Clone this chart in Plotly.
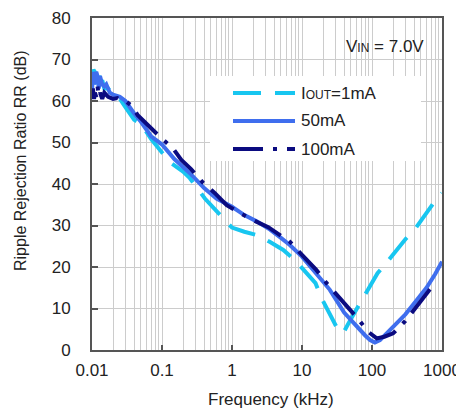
import plotly.graph_objects as go

# ---- data (frequency in kHz, ripple rejection in dB) ----
f_1mA = [0.01, 0.0105, 0.011, 0.0115, 0.012, 0.0125, 0.013, 0.014, 0.015, 0.017, 0.02, 0.025,
         0.03, 0.04, 0.05, 0.07, 0.1, 0.136, 0.2, 0.25, 0.41, 0.6, 1.0, 1.5, 2.25, 3.5, 5.4,
         7.9, 11, 15.6, 19, 25, 31, 36, 40, 50, 67, 85, 120, 152, 214, 300, 419, 572, 750, 1000]
rr_1mA = [66, 67.5, 67, 64, 67.5, 67, 64, 65, 63, 63, 61.5, 60.5,
          58.5, 55.5, 54.5, 50.8, 47.6, 45, 43, 41.4, 36.5, 33.5, 29.5, 28.5, 27.7, 26, 24.1,
          21.7, 19, 16.1, 12.5, 8.5, 5.6, 4.0, 4.5, 7.5, 11.2, 14.5, 18.5, 20.5, 23.7, 26.7,
          29.3, 32.5, 35.3, 37.8]

f_50mA = [0.01, 0.0103, 0.0107, 0.011, 0.0115, 0.012, 0.0125, 0.013, 0.014, 0.015, 0.016,
          0.018, 0.02, 0.025, 0.03, 0.04, 0.05, 0.07, 0.1, 0.15, 0.25, 0.4, 0.6, 1.0, 1.5,
          2.25, 3.5, 5, 6.7, 10, 15, 25, 40, 60, 80, 94, 110, 130, 160, 225, 300, 434, 600,
          800, 1000]
rr_50mA = [62, 67, 64, 66, 67, 66, 63, 66, 64, 63.5, 64,
           62, 61.5, 61, 60, 57, 55, 51.5, 49.5, 46, 42.6, 39, 36.5, 34.5, 32.5,
           31, 29, 27, 25.3, 22.5, 19, 14.5, 9, 5.6, 3.5, 2.4, 1.8, 2.4, 4, 6.4, 8.6, 12, 15,
           18.3, 21.3]

f_100mA = [0.01, 0.0103, 0.0107, 0.011, 0.0115, 0.012, 0.0125, 0.013, 0.014, 0.015, 0.017,
           0.02, 0.023, 0.027, 0.03, 0.036, 0.045, 0.06, 0.093, 0.143, 0.189, 0.26, 0.39,
           0.57, 0.84, 1.3, 2.0, 3.3, 5.4, 6.7, 10.4, 16, 22.5, 32, 46, 64, 88, 117, 150,
           200, 300, 434, 600, 785]
rr_100mA = [61, 63, 60.5, 62, 61, 63.5, 61, 62, 60.5, 62, 61,
            60.5, 60.7, 60, 60, 59, 56.6, 54.5, 51.4, 48.6, 45.8, 43.6, 40.2,
            37.8, 34.9, 33, 31.3, 29.6, 27.3, 26.1, 22.6, 19.3, 16.1, 13.2, 10.4, 7.4, 4.4,
            2.8, 3.2, 4.0, 7, 10.4, 13.3, 16.1]

x_tickvals = [0.01, 0.1, 1, 10, 100, 1000]
x_ticktext = ["0.01", "0.1", "1", "10", "100", "1000"]
y_tickvals = [0, 10, 20, 30, 40, 50, 60, 70, 80]

series_names = ["I<span style='font-size:12px'>OUT</span>=1mA", "50mA", "100mA"]

C_CYAN = "#18C6F0"
C_BLUE = "#3F6EEE"
C_NAVY = "#0B0B80"
DASH_CYAN = "28px,14px"
DASH_NAVY = "30px,10px,4px,10px"
GRID = "#CCCCCC"
AXIS = "#555555"
FONT = "Liberation Sans, Arial, sans-serif"

minor_x = [k * 10 ** e for e in range(-2, 3) for k in range(2, 10)]

fig = go.Figure()
fig.add_trace(go.Scatter(x=f_1mA, y=rr_1mA, mode="lines", name=series_names[0],
                         line=dict(color=C_CYAN, width=4, dash=DASH_CYAN)))
fig.add_trace(go.Scatter(x=f_50mA, y=rr_50mA, mode="lines", name=series_names[1],
                         line=dict(color=C_BLUE, width=4)))
fig.add_trace(go.Scatter(x=f_100mA, y=rr_100mA, mode="lines", name=series_names[2],
                         line=dict(color=C_NAVY, width=4, dash=DASH_NAVY)))

# the page body adds an 8px offset, so the figure is sized/placed to compensate
fig.update_layout(
    width=456, height=400,
    margin=dict(l=84, r=22, t=10, b=58, autoexpand=False),
    paper_bgcolor="white", plot_bgcolor="white",
    showlegend=False,
    font=dict(family=FONT, size=17, color="#222222"),
)
fig.update_xaxes(
    type="log", range=[-2, 3], automargin=False,
    tickmode="array", tickvals=x_tickvals, ticktext=x_ticktext,
    showgrid=True, gridcolor=GRID, gridwidth=1,
    minor=dict(tickmode="array", tickvals=minor_x, showgrid=True, gridcolor=GRID, gridwidth=1, ticks=""),
    ticks="inside", ticklen=5, tickwidth=1.5, tickcolor=AXIS,
    showline=True, linecolor=AXIS, linewidth=2, mirror=True,
    zeroline=False,
    tickfont=dict(size=17),
    ticklabelstandoff=4,
    ticklabeloverflow="allow",
)
fig.update_yaxes(
    range=[0, 80], tickmode="array", tickvals=y_tickvals, automargin=False,
    showgrid=True, gridcolor=GRID, gridwidth=1,
    ticks="inside", ticklen=6, tickwidth=1.5, tickcolor=AXIS,
    showline=True, linecolor=AXIS, linewidth=2, mirror=True,
    zeroline=False,
    tickfont=dict(size=17),
    ticklabelstandoff=16,
)

# y-axis title
fig.add_annotation(text="Ripple Rejection Ratio RR (dB)", xref="paper", yref="paper",
                   x=-0.206, y=0.572, textangle=-90, showarrow=False,
                   font=dict(size=16), xanchor="center", yanchor="middle")
# x-axis title
fig.add_annotation(text="Frequency (kHz)", xref="paper", yref="paper",
                   x=0.511, y=-0.150, showarrow=False, font=dict(size=17),
                   xanchor="center", yanchor="middle")
# condition label
fig.add_annotation(text="V<span style='font-size:12px'>IN</span> = 7.0V", xref="paper", yref="paper",
                   x=0.955, y=0.914, showarrow=False, font=dict(size=17),
                   xanchor="right", yanchor="middle")

# custom legend (white box with long line samples)
def px_x(p):
    return (p - 92) / 350.0

def px_y(p):
    return (350 - p) / 332.0

fig.add_shape(type="rect", xref="paper", yref="paper",
              x0=px_x(210), x1=px_x(421), y0=px_y(161), y1=px_y(76),
              fillcolor="white", line=dict(width=0), layer="above")
legend_rows = [93, 121, 149]
legend_styles = [(C_CYAN, DASH_CYAN), (C_BLUE, "solid"), (C_NAVY, DASH_NAVY)]
for row, (col, dsh), name in zip(legend_rows, legend_styles, series_names):
    fig.add_shape(type="line", xref="paper", yref="paper",
                  x0=px_x(233), x1=px_x(295), y0=px_y(row), y1=px_y(row),
                  line=dict(color=col, width=4, dash=dsh), layer="above")
    fig.add_annotation(text=name, xref="paper", yref="paper",
                       x=px_x(299), y=px_y(row), showarrow=False,
                       xanchor="left", yanchor="middle", font=dict(size=17))

fig.write_html("out.html")
